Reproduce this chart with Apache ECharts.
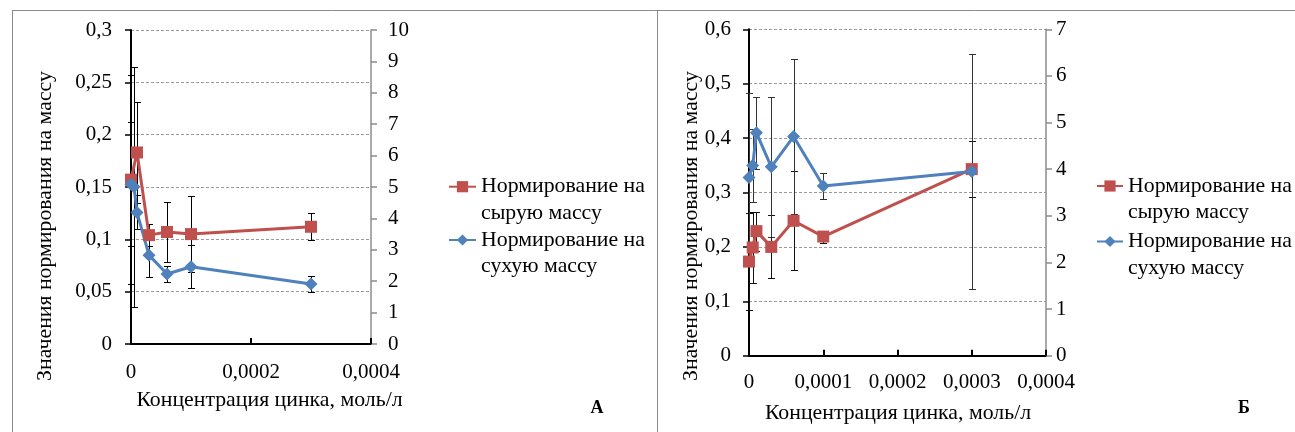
<!DOCTYPE html>
<html><head><meta charset="utf-8">
<script src="https://cdn.jsdelivr.net/npm/echarts@6/dist/echarts.min.js"></script>
<style>html,body{margin:0;padding:0;background:#fff}#c{width:1295px;height:432px}</style>
</head><body><div id="c"></div>
<script>
// Panel A
const xA_red = [0, 0.00001, 0.00003, 0.00006, 0.0001, 0.0003];
const A_red = [0.157, 0.183, 0.104, 0.107, 0.105, 0.112];
const A_red_err = [0.1, 0.048, 0.0105, 0.029, 0.036, 0.013];
const xA_blue = [0, 0.000005, 0.00001, 0.00003, 0.00006, 0.0001, 0.0003];
const A_blue = [5.09, 5.01, 4.19, 2.83, 2.23, 2.46, 1.91];
const A_blue_err = [1.97, 3.82, 0.54, 0.69, 0.25, 0.69, 0.25];
// Panel B
const xB = [0, 0.000005, 0.00001, 0.00003, 0.00006, 0.0001, 0.0003];
const B_red = [0.173, 0.199, 0.229, 0.200, 0.248, 0.219, 0.343];
const B_red_err = [0.089, 0.066, 0.036, 0.058, 0.091, 0.011, 0.052];
const B_blue = [3.82, 4.08, 4.78, 4.05, 4.70, 3.64, 3.95];
const B_blue_err = [1.81, 0.79, 0.77, 1.50, 1.67, 0.27, 2.52];

const nameWet = 'Нормирование на сырую массу';
const nameDry = 'Нормирование на сухую массу';
const yTitle = 'Значения нормирования на массу';
const xTitle = 'Концентрация цинка, моль/л';

const RED = '#C0504D', BLUE = '#4F81BD';
const FONT = 'Liberation Serif';
const FS = 21;    // tick labels
const FT = 21.8;  // titles & legend
const LH = 26.7;

function pts(xs, ys) { return xs.map((x, i) => [x, ys[i]]); }
function errPts(xs, ys, es) { return xs.map((x, i) => [x, ys[i], es[i]]); }

function errRender(color) {
  return function (params, api) {
    const x = api.value(0), y = api.value(1), e = api.value(2);
    const t = api.coord([x, y + e]), b = api.coord([x, y - e]);
    const cx = Math.round(t[0]) + 0.5;
    const ty = Math.round(t[1]) + 0.5, by = Math.round(b[1]) + 0.5;
    const w = 3.5;
    const st = { stroke: color, lineWidth: 1 };
    return { type: 'group', children: [
      { type: 'line', shape: { x1: cx, y1: ty, x2: cx, y2: by }, style: st },
      { type: 'line', shape: { x1: cx - w, y1: ty, x2: cx + w, y2: ty }, style: st },
      { type: 'line', shape: { x1: cx - w, y1: by, x2: cx + w, y2: by }, style: st }
    ]};
  };
}

function xFmt(v) { return v === 0 ? '0' : v.toFixed(4).replace('.', ','); }
function yFmt(v) { return String(parseFloat(v.toFixed(3))).replace('.', ','); }

const axisLbl = { fontFamily: FONT, fontSize: FS, color: '#000' };

function xAxis(grid, interval, margin) {
  return {
    type: 'value', gridIndex: grid, min: 0, max: 0.0004, interval: interval,
    axisLine: { show: true, onZero: false, lineStyle: { color: '#000', width: 2 } },
    axisTick: { show: true, inside: true, length: 6, lineStyle: { color: '#000', width: 2 } },
    axisLabel: Object.assign({ formatter: xFmt, margin: margin }, axisLbl),
    splitLine: { show: false }
  };
}
function yLeft(grid, max, interval, margin) {
  return {
    type: 'value', gridIndex: grid, position: 'left', min: 0, max: max, interval: interval,
    axisLine: { show: true, onZero: false, lineStyle: { color: '#000', width: 2 } },
    axisTick: { show: true, length: 6, lineStyle: { color: '#000', width: 1.5 } },
    axisLabel: Object.assign({ formatter: yFmt, margin: margin }, axisLbl),
    splitLine: { show: true, lineStyle: { color: '#9a9a9a', width: 1, type: [3, 2] } }
  };
}
function yRight(grid, max, margin) {
  return {
    type: 'value', gridIndex: grid, position: 'right', min: 0, max: max, interval: 1,
    axisLine: { show: true, onZero: false, lineStyle: { color: '#8c8c8c', width: 1.5 } },
    axisTick: { show: true, length: 6, lineStyle: { color: '#8c8c8c', width: 1.5 } },
    axisLabel: Object.assign({ margin: margin }, axisLbl),
    splitLine: { show: false }
  };
}

function lineSeries(name, xi, yi, data, color, symbol, size) {
  return {
    type: 'line', name: name, xAxisIndex: xi, yAxisIndex: yi, data: data,
    symbol: symbol, symbolSize: size, showAllSymbol: true,
    lineStyle: { color: color, width: 3 },
    itemStyle: { color: color },
    z: 5, animation: false
  };
}
function errSeries(xi, yi, data, color) {
  return {
    type: 'custom', xAxisIndex: xi, yAxisIndex: yi, data: data,
    renderItem: errRender(color), z: 2, silent: true, animation: false
  };
}

function legend(left, iconY, name, iw) {
  return {
    data: [name], left: left, top: iconY - 1.5 * LH, padding: 0, orient: 'vertical',
    itemWidth: iw, itemHeight: 14, selectedMode: false,
    formatter: n => '\n' + n.replace(' на ', ' на\n'),
    textStyle: { fontFamily: FONT, fontSize: FT, color: '#000', lineHeight: LH }
  };
}

const chart = echarts.init(document.getElementById('c'), null, { renderer: 'canvas' });
chart.setOption({
  animation: false,
  backgroundColor: '#fff',
  grid: [
    { left: 131, top: 30, width: 240, height: 314 },
    { left: 749, top: 29.3, width: 297, height: 326.4 }
  ],
  xAxis: [xAxis(0, 0.0002, 18), xAxis(1, 0.0001, 16)],
  yAxis: [yLeft(0, 0.3, 0.05, 19), yRight(0, 10, 17), yLeft(1, 0.6, 0.1, 18), yRight(1, 7, 10)],
  legend: [
    legend(448, 186.7, nameWet, 27), legend(448, 240, nameDry, 27),
    legend(1096, 186, nameWet, 26), legend(1096, 241.5, nameDry, 26)
  ],
  series: [
    errSeries(0, 0, errPts(xA_red, A_red, A_red_err), '#000'),
    errSeries(0, 1, errPts(xA_blue, A_blue, A_blue_err), '#000'),
    lineSeries(nameWet, 0, 0, pts(xA_red, A_red), RED, 'rect', 12),
    lineSeries(nameDry, 0, 1, pts(xA_blue, A_blue), BLUE, 'diamond', 13),
    errSeries(1, 2, errPts(xB, B_red, B_red_err), '#111'),
    errSeries(1, 3, errPts(xB, B_blue, B_blue_err), '#333'),
    lineSeries(nameWet, 1, 2, pts(xB, B_red), RED, 'rect', 12),
    lineSeries(nameDry, 1, 3, pts(xB, B_blue), BLUE, 'diamond', 13)
  ],
  graphic: [
    { type: 'line', shape: { x1: 12, y1: 10.5, x2: 1295, y2: 10.5 }, style: { stroke: '#8a8a8a', lineWidth: 1 } },
    { type: 'line', shape: { x1: 12.5, y1: 10, x2: 12.5, y2: 432 }, style: { stroke: '#8a8a8a', lineWidth: 1 } },
    { type: 'line', shape: { x1: 657.5, y1: 10, x2: 657.5, y2: 432 }, style: { stroke: '#8a8a8a', lineWidth: 1 } },
    { type: 'text', x: 45, y: 226, rotation: Math.PI / 2,
      style: { text: yTitle, fontFamily: FONT, fontSize: FT, fill: '#000', align: 'center', verticalAlign: 'middle' } },
    { type: 'text', x: 691.5, y: 226, rotation: Math.PI / 2,
      style: { text: yTitle, fontFamily: FONT, fontSize: FT, fill: '#000', align: 'center', verticalAlign: 'middle' } },
    { type: 'text', x: 269.5, y: 400,
      style: { text: xTitle, fontFamily: FONT, fontSize: FT, fill: '#000', align: 'center', verticalAlign: 'middle' } },
    { type: 'text', x: 898, y: 413,
      style: { text: xTitle, fontFamily: FONT, fontSize: FT, fill: '#000', align: 'center', verticalAlign: 'middle' } },
    { type: 'text', x: 597, y: 408,
      style: { text: 'А', fontFamily: FONT, fontSize: 18, fontWeight: 'bold', fill: '#000', align: 'center', verticalAlign: 'middle' } },
    { type: 'text', x: 1244, y: 408,
      style: { text: 'Б', fontFamily: FONT, fontSize: 18, fontWeight: 'bold', fill: '#000', align: 'center', verticalAlign: 'middle' } }
  ]
});
</script></body></html>
